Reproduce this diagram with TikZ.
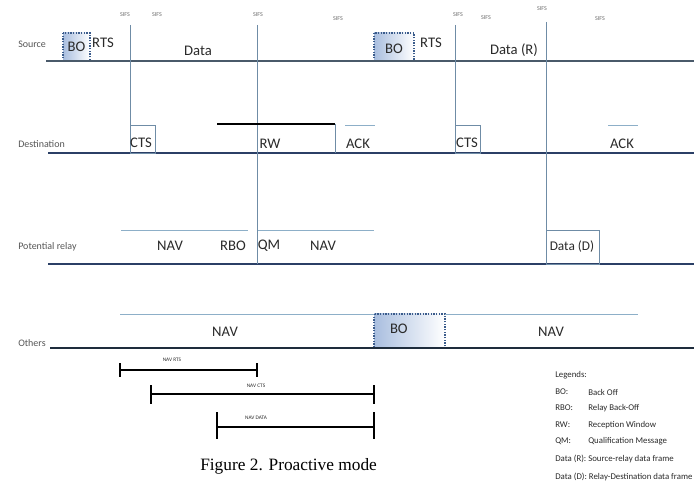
\documentclass[tikz,border=0pt]{standalone}
\usepackage{fontspec}
\setmainfont{Carlito}
\newfontfamily\capfont{Liberation Serif}
\definecolor{lanecol}{HTML}{4A5A6A}
\definecolor{destcol}{HTML}{2B3F66}
\definecolor{othcol}{HTML}{1E2C3C}
\definecolor{tickcol}{HTML}{6F8CA6}
\definecolor{navcol}{HTML}{8DAFC8}
\definecolor{bofill}{HTML}{A9BEDF}
\definecolor{bodot}{HTML}{3B5C8C}
\definecolor{txtcol}{HTML}{2A2A2A}
\begin{document}
\begin{tikzpicture}[x=0.75pt,y=-0.75pt,
    lane/.style={draw=lanecol, line width=1pt},
    vline/.style={draw=tickcol, line width=0.7pt},
    navline/.style={draw=navcol, line width=0.7pt},
    bobox/.style={draw=bodot, densely dotted, line width=1pt, left color=bofill, right color=white},
    lbl/.style={font=\fontsize{11}{12}\selectfont, text=txtcol, inner sep=0pt},
    side/.style={font=\fontsize{7.5}{8}\selectfont, text=txtcol!80, inner sep=0pt, anchor=west},
    sifs/.style={font=\fontsize{4.5}{5}\selectfont, text=txtcol!70, inner sep=0pt},
    navlbl/.style={font=\fontsize{4}{5}\selectfont, text=txtcol, inner sep=0pt},
    legend/.style={font=\fontsize{6.6}{8}\selectfont, text=txtcol, inner sep=0pt, anchor=west}]
    \useasboundingbox (0,0) rectangle (694,492);

    % back-off boxes
    \draw[bobox] (63,33) rectangle (90,61) node[lbl, midway] (bo1) {BO};
    \draw[bobox] (374,33) rectangle (414,61) node[lbl, midway, yshift=-1pt] (bo2) {BO};
    \draw[bobox] (374,314) rectangle (445,348) node[lbl, pos=0.35, yshift=-2pt] (bo3) {BO};

    % lanes
    \node[side] (src) at (18,44) {Source};
    \draw[lane] (46,61) -- (694,61);
    \node[side] (dst) at (18,144) {Destination};
    \draw[lane, draw=destcol] (48,153) -- (694,153);
    \node[side] (rly) at (18,247) {Potential relay};
    \draw[lane, draw=destcol] (48,264) -- (694,264);
    \node[side] (oth) at (18,343) {Others};
    \draw[lane, draw=othcol, line width=2pt] (50,348) -- (694,348);

    % SIFS marks
    \node[sifs] (s1) at (125,15) {SIFS};
    \node[sifs] (s2) at (157,15) {SIFS};
    \node[sifs] (s3) at (258,15) {SIFS};
    \node[sifs] (s4) at (338,19) {SIFS};
    \node[sifs] (s5) at (458,15) {SIFS};
    \node[sifs] (s6) at (486,18) {SIFS};
    \node[sifs] (s7) at (542,9) {SIFS};
    \node[sifs] (s8) at (600,19) {SIFS};

    % time marks
    \draw[vline] (130,25) -- (130,153);
    \draw[vline] (257,25) -- (257,264);
    \draw[vline] (455,25) -- (455,153);
    \draw[vline] (546,22) -- (546,264);

    % source
    \node[lbl] (rts1) at (103,43) {RTS};
    \node[lbl] (data) at (198,51) {Data};
    \node[lbl] (rts2) at (431,43) {RTS};
    \node[lbl] (datar) at (514,50) {Data (R)};

    % destination
    \draw[vline] (130,125) rectangle (155,153);
    \node[lbl] (cts1) at (141,143) {CTS};
    \draw[line width=2.2pt] (217,124) -- (335,124);
    \draw[vline] (335,124) -- (335,153);
    \node[lbl] (rw) at (270,144) {RW};
    \draw[navline] (345,125) -- (375,125);
    \node[lbl] (ack1) at (358,144) {ACK};
    \draw[vline] (455,125) rectangle (480,153);
    \node[lbl] (cts2) at (467,143) {CTS};
    \draw[navline] (608,125) -- (638,125);
    \node[lbl] (ack2) at (622,144) {ACK};

    % potential relay
    \draw[navline] (121,230) -- (248,230);
    \draw[navline] (258,230) -- (374,230);
    \node[lbl] (nav1) at (170,246) {NAV};
    \node[lbl] (rbo) at (233,246) {RBO};
    \node[lbl] (qm) at (269,246) {QM};
    \node[lbl] (nav2) at (323,246) {NAV};
    \draw[vline] (546,230) rectangle (599,264);
    \node[lbl, font=\fontsize{10}{12}\selectfont] (datad) at (572,247) {Data (D)};

    % others
    \draw[navline] (120,314) -- (374,314);
    \draw[navline] (445,314) -- (638,314);
    \node[lbl] (nav3) at (225,332) {NAV};
    \node[lbl] (nav4) at (551,332) {NAV};

    % NAV durations
    \draw[line width=1pt] (120,363) -- (120,377) (120,370) -- (257,370) (257,363) -- (257,377);
    \node[navlbl] (navrts) at (172,360) {NAV RTS};
    \draw[line width=1.8pt] (151,385) -- (151,404) (151,394) -- (374,394) (374,385) -- (374,404);
    \node[navlbl] (navcts) at (256,386) {NAV CTS};
    \draw[line width=1pt] (217,412) -- (217,439) (217,427) -- (374,427) (374,412) -- (374,439);
    \node[navlbl] (navdata) at (256,418) {NAV DATA};

    % caption
    \node[anchor=base west, inner sep=0pt, font=\capfont\fontsize{13}{15}\selectfont] (cap) at (200,470) {Figure 2. Proactive mode};

    % legend
    \node[legend] (lg0) at (555,375) {Legends:};
    \node[legend] (lg1) at (555,392) {BO:};
    \node[legend] (lg1b) at (588,392) {Back Off};
    \node[legend] (lg2) at (555,408) {RBO:};
    \node[legend] (lg2b) at (588,408) {Relay Back-Off};
    \node[legend] (lg3) at (555,425) {RW:};
    \node[legend] (lg3b) at (588,425) {Reception Window};
    \node[legend] (lg4) at (555,441) {QM:};
    \node[legend] (lg4b) at (588,441) {Qualification Message};
    \node[legend] (lg5) at (555,459) {Data (R): Source-relay data frame};
    \node[legend] (lg6) at (555,477) {Data (D): Relay-Destination data frame};
\end{tikzpicture}
\end{document}
